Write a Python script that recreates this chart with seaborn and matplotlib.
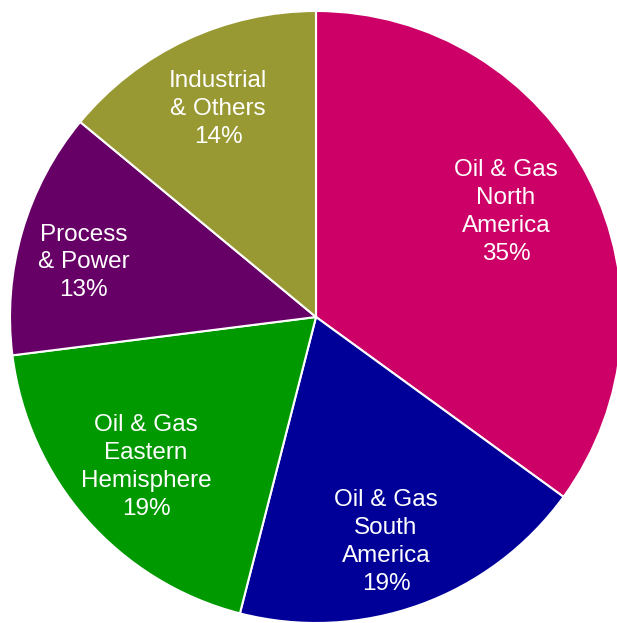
import matplotlib
matplotlib.use("Agg")
import matplotlib.pyplot as plt
import numpy as np
import seaborn as sns

segments = ["Oil & Gas\nNorth\nAmerica", "Oil & Gas\nSouth\nAmerica",
            "Oil & Gas\nEastern\nHemisphere", "Process\n& Power",
            "Industrial\n& Others"]
shares = [35, 19, 19, 13, 14]
colors = ["#CC0066", "#000099", "#009900", "#660066", "#999933"]
# label placement: distance from centre (fraction of radius), angle tweak (deg)
label_dist = [0.71, 0.77, 0.74, 0.78, 0.75]
label_turn = [2, -2.5, 0, 3, 0]

sns.set_theme(style="white")
plt.rcParams["font.family"] = ["Liberation Sans", "DejaVu Sans"]

fig = plt.figure(figsize=(6.17, 6.23), dpi=100)
# pie centred at (316, 317) px with radius ~306 px, slightly cut at right/bottom
ax = fig.add_axes([10 / 617, 0, 612 / 617, 612 / 623])

labels = [f"{s}\n{v}%" for s, v in zip(segments, shares)]
wedges, texts = ax.pie(shares, labels=labels, colors=colors, startangle=90,
                       counterclock=False, labeldistance=0.75, radius=1.0,
                       wedgeprops=dict(edgecolor="white", linewidth=1.5))
for w, t, d, turn in zip(wedges, texts, label_dist, label_turn):
    mid = np.deg2rad((w.theta1 + w.theta2) / 2 + turn)
    t.set_position((d * np.cos(mid), d * np.sin(mid)))
    t.set_color("white")
    t.set_fontsize(17.5)
    t.set_ha("center")
    t.set_va("center")
    t.set_multialignment("center")
    t.set_linespacing(1.35)

ax.set_xlim(-1, 1)
ax.set_ylim(-1, 1)
ax.set_aspect("equal")
ax.axis("off")

fig.savefig("out.png", dpi=100)
